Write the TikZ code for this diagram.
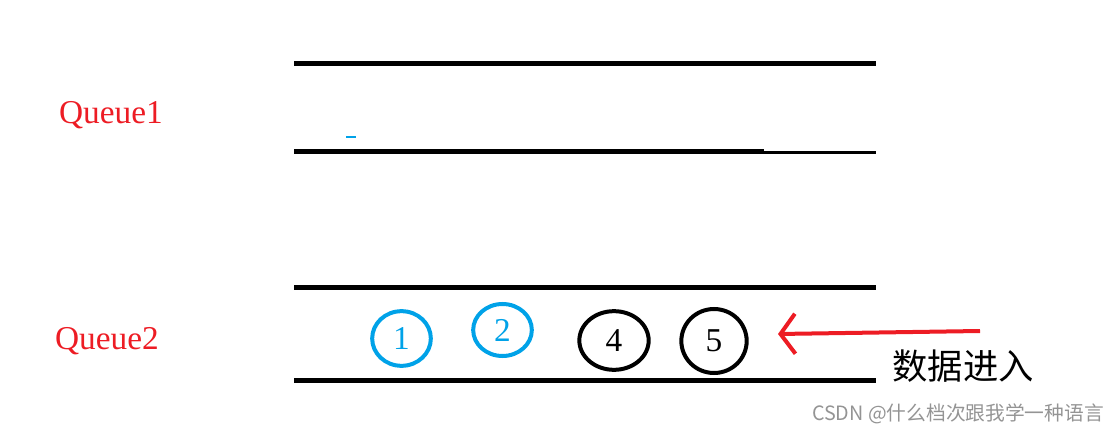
\documentclass[tikz,border=0pt]{standalone}
\usepackage{fontspec}
\setmainfont{Liberation Serif}
\newfontfamily\cjk{Noto Sans CJK SC}
\usetikzlibrary{positioning, arrows.meta, shapes.geometric}
\definecolor{qred}{RGB}{237,28,36}
\definecolor{qblue}{RGB}{0,162,232}

\begin{document}
\begin{tikzpicture}[
        x=0.75pt, y=-0.75pt,
        wall/.style={line width=3.75pt},
        qlabel/.style={text=qred, font=\fontsize{25}{27}\selectfont},
        ball/.style={draw, ellipse, line width=3pt, inner sep=0pt, font=\fontsize{25}{27}\selectfont},
        arrow/.style={-{Straight Barb[length=11pt, width=30pt]}, line width=3pt, draw=qred}
    ]
        \useasboundingbox (0,0) rectangle (1119,434);

        % Queues
        \draw[wall] (294,63.5) -- (876,63.5);
        \draw[wall] (294,151.5) -- (764,151.5);
        \draw[line width=2.25pt] (764,152.5) -- (876,152.5);
        \draw[qblue, line width=1.2pt] (346,137) -- (356,137);
        \draw[wall] (294,287.5) -- (876,287.5);
        \draw[wall] (294,380.5) -- (876,380.5);

        % Labels
        \node[qlabel] (q1) at (111,115) {Queue1};
        \node[qlabel] (q2) at (107,341) {Queue2};

        % Nodes
        \node[ball, qblue, minimum width=44pt, minimum height=41pt] (b1) at (401.5,338.5) {1};
        \node[ball, qblue, minimum width=44pt, minimum height=39pt] (b2) at (502.5,330) {2};
        \node[ball, minimum width=52pt, minimum height=44pt] (b4) at (614,340.5) {4};
        \node[ball, minimum width=49pt, minimum height=48pt] (b5) at (714,341) {5};

        % Arrow
        \coordinate (src) at (980,331);
        \coordinate (inlet) at (778,334);
        \draw[arrow] (src) -- (inlet);
        \node[font=\cjk\fontsize{26.5}{28}\selectfont] (enter) at (963,366) {数据进入};

        \node[font=\cjk\fontsize{14.8}{16}\selectfont, text=black!42] (mark) at (958,414) {CSDN @什么档次跟我学一种语言};
    \end{tikzpicture}
\end{document}
